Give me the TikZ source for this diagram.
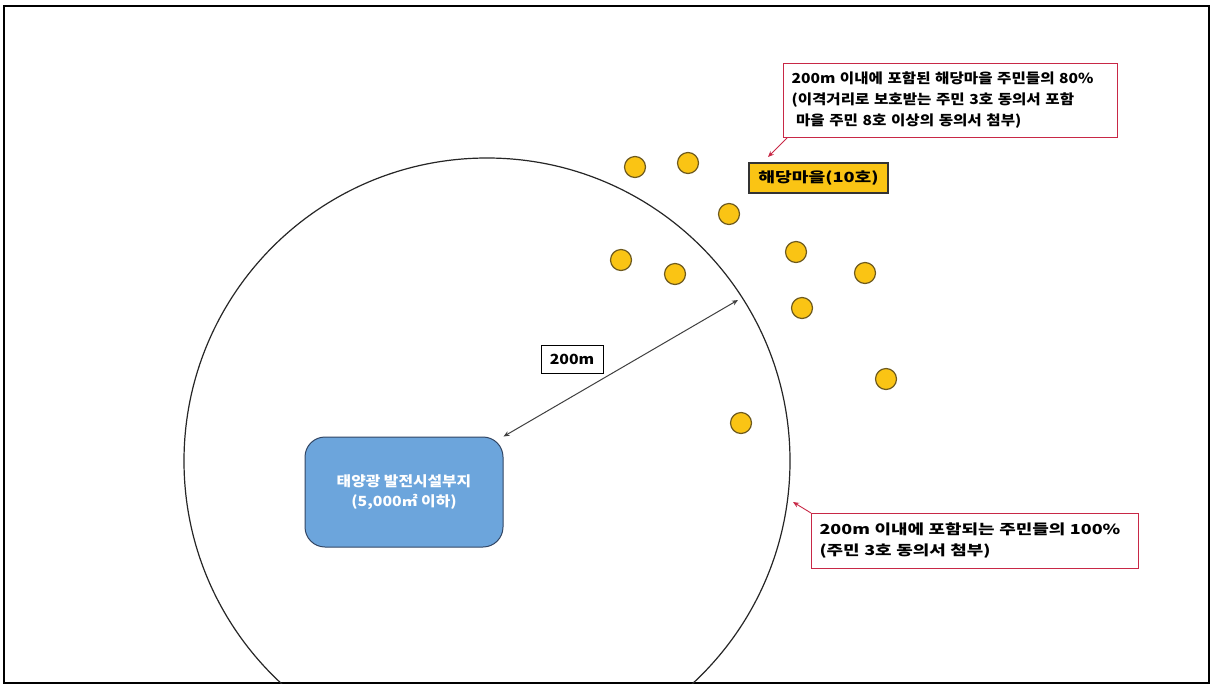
\documentclass[tikz,border=0pt]{standalone}
\usepackage{fontspec}
\setmainfont{Noto Sans CJK KR}
\newfontfamily\fontA[FakeStretch=1.13]{Noto Sans CJK KR}
\newfontfamily\fontB[FakeStretch=1.3]{Noto Sans CJK KR}
\usetikzlibrary{arrows.meta}
\definecolor{dotfill}{RGB}{250,196,20}
\definecolor{dotline}{RGB}{110,90,30}
\definecolor{boxred}{RGB}{200,40,70}
\definecolor{siteblue}{RGB}{108,165,220}
\definecolor{siteline}{RGB}{50,70,100}
\tikzset{
  house/.style={circle,draw=dotline,line width=1.2pt,fill=dotfill,minimum size=21pt,inner sep=0pt},
  note/.style={draw=boxred,line width=1pt,fill=white,align=left,inner sep=0pt},
  redarrow/.style={draw=boxred,line width=0.9pt,-{Stealth[length=6pt,width=5pt]}},
}
\begin{document}
\begin{tikzpicture}[x=1pt,y=-1pt]
\useasboundingbox (0,0) rectangle (1214,686);
\fill[white] (0,0) rectangle (1214,686);
\draw[line width=2pt] (4,6) rectangle (1209,683);
% circle clipped to frame
\begin{scope}
\clip (4,6) rectangle (1209,683);
\draw[line width=1.2pt,black!85] (487,461) circle[radius=303];
\end{scope}
\coordinate (rim) at (738,300);
% site
\node[draw=siteline,line width=1pt,fill=siteblue,rounded corners=20pt,minimum width=198pt,minimum height=110pt,
  text=white,align=center,font=\fontA\fontsize{14}{20}\selectfont\bfseries] (site) at (404,492)
  {태양광 발전시설부지\\(5,000㎡ 이하)};
\draw[line width=1pt,black!75,{Stealth[length=6pt,width=5pt]}-{Stealth[length=6pt,width=5pt]}] (site.north east) -- (rim);
\node[draw,line width=0.8pt,minimum width=62pt,minimum height=28pt,inner sep=0pt,font=\fontA\fontsize{14}{16}\selectfont\bfseries] (dist) at (572,359) {200m};
% houses
\node[house] (h1) at (635,167) {};
\node[house] (h2) at (688,163) {};
\node[house] (h3) at (729,214) {};
\node[house] (h4) at (621,260) {};
\node[house] (h5) at (675,274) {};
\node[house] (h6) at (796,252) {};
\node[house] (h7) at (865,273) {};
\node[house] (h8) at (802,308) {};
\node[house] (h9) at (886,379) {};
\node[house] (h10) at (741,423) {};
% village label
\node[draw=black!80,line width=1.2pt,fill=dotfill,minimum width=139pt,minimum height=30pt,inner sep=0pt,font=\fontB\fontsize{14}{16}\selectfont\bfseries] (vil) at (818.5,178) {해당마을(10호)};
% notes
\node[note,minimum width=332pt,minimum height=74pt,anchor=north west,text width=318pt,inner xsep=8pt,font=\fontA\fontsize{13.8}{21}\selectfont\bfseries] (n1) at (783,63)
  {200m 이내에 포함된 해당마을 주민들의 80\%\\(이격거리로 보호받는 주민 3호 동의서 포함\\\ 마을 주민 8호 이상의 동의서 첨부)};
\coordinate (v1) at (768,157);
\draw[redarrow] (n1.south west) ++(4,0) coordinate (n1s) -- (v1);
\node[note,minimum width=327pt,minimum height=55pt,anchor=north west,text width=311pt,inner xsep=8pt,font=\fontB\fontsize{13.8}{21}\selectfont\bfseries] (n2) at (811,513)
  {200m 이내에 포함되는 주민들의 100\%\\(주민 3호 동의서 첨부)};
\coordinate (c1) at (793,502);
\draw[redarrow] (n2.north west) -- (c1);
\end{tikzpicture}
\end{document}
